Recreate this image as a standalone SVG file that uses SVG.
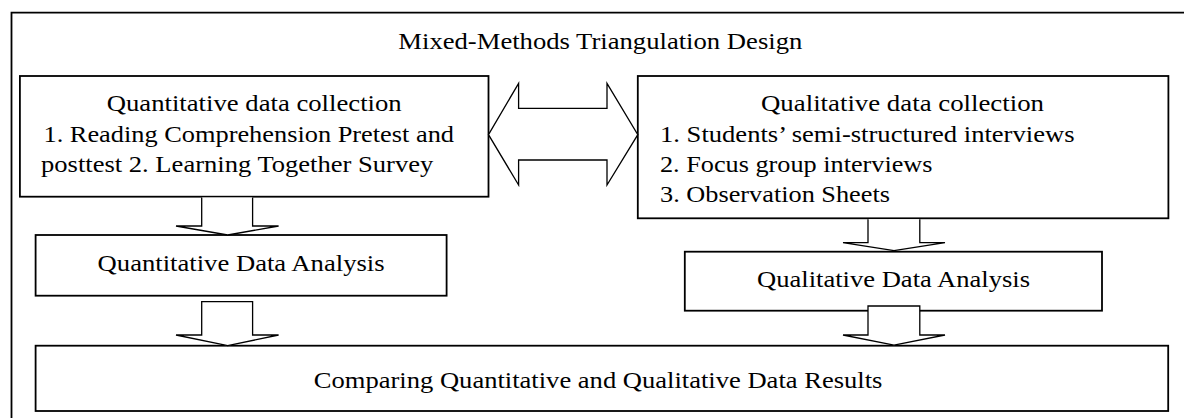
<svg xmlns="http://www.w3.org/2000/svg" width="1184" height="418" viewBox="0 0 1184 418">
<style>
.bg{fill:#ffffff}
.frame{fill:none;stroke:#000;stroke-width:1.8}
.box{fill:#ffffff;stroke:#000;stroke-width:1.8}
.arr{fill:#ffffff;stroke:#000;stroke-width:1.3;stroke-linejoin:miter}
text{font-family:"Liberation Serif","Times New Roman",serif;font-size:23px;fill:#000}
</style>
<rect class="bg" x="0" y="0" width="1184" height="418"/>
<path class="frame" d="M11.5,420 V12.7 H1186"/>
<g id="title">
<text x="398.3" y="48.5" textLength="404" lengthAdjust="spacingAndGlyphs">Mixed-Methods Triangulation Design</text>
</g>
<g id="quant-collection">
<rect class="box" x="19.9" y="76" width="468.6" height="120.7"/>
<text x="106.7" y="111" textLength="295" lengthAdjust="spacingAndGlyphs">Quantitative data collection</text>
<text x="43.5" y="141.5" textLength="410.5" lengthAdjust="spacingAndGlyphs">1. Reading Comprehension Pretest and</text>
<text x="41" y="171.7" textLength="392.3" lengthAdjust="spacingAndGlyphs">posttest 2. Learning Together Survey</text>
</g>
<g id="qual-collection">
<rect class="box" x="637.8" y="76" width="530.6" height="142.3"/>
<text x="761" y="111" textLength="283" lengthAdjust="spacingAndGlyphs">Qualitative data collection</text>
<text x="660" y="141.7" textLength="414.5" lengthAdjust="spacingAndGlyphs">1. Students’ semi-structured interviews</text>
<text x="660" y="171.7" textLength="272.5" lengthAdjust="spacingAndGlyphs">2. Focus group interviews</text>
<text x="660" y="201.7" textLength="230" lengthAdjust="spacingAndGlyphs">3. Observation Sheets</text>
</g>
<g id="quant-analysis">
<rect class="box" x="35.6" y="235" width="411" height="60.7"/>
<text x="97.6" y="271" textLength="287" lengthAdjust="spacingAndGlyphs">Quantitative Data Analysis</text>
</g>
<g id="qual-analysis">
<rect class="box" x="684.8" y="251.7" width="417.2" height="59"/>
<text x="757" y="287.3" textLength="273" lengthAdjust="spacingAndGlyphs">Qualitative Data Analysis</text>
</g>
<g id="comparing">
<rect class="box" x="35.6" y="345.7" width="1132.6" height="65.3"/>
<text x="313.8" y="388.3" textLength="568.6" lengthAdjust="spacingAndGlyphs">Comparing Quantitative and Qualitative Data Results</text>
</g>
<g id="connectors">
<polygon class="arr" points="488.5,134.7 518.6,83.3 518.6,108.3 607,108.3 607,83.3 637.8,134.7 607,185 607,160 518.6,160 518.6,185"/>
<path class="arr" d="M201.7,197.6 V226 H176 L227.7,235 L278.6,226 H252.6 V197.6"/>
<path class="arr" d="M201.7,301.7 V335 H176 L227.7,345.7 L278.6,335 H252.6 V301.7 Z"/>
<path class="arr" d="M868,219.2 V242.7 H843 L894,250.7 L945,242.7 H919.8 V219.2"/>
<path class="arr" d="M868,306 V335 H843 L894,345.2 L945,335 H919.8 V306 Z"/>
</g>
</svg>
